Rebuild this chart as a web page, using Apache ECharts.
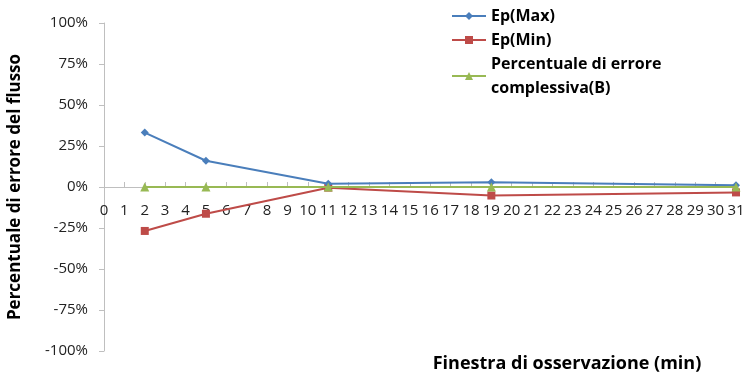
<!DOCTYPE html>
<html><head><meta charset="utf-8">
<script src="https://cdn.jsdelivr.net/npm/echarts@6/dist/echarts.min.js"></script>
<style>html,body{margin:0;padding:0;background:#fff}#c{width:752px;height:376px}</style>
</head><body><div id="c"></div>
<script>
const xValues = [2, 5, 11, 19, 31];
const epMax = [33.2, 16.0, 2.0, 2.9, 1.0];
const epMin = [-26.8, -16.3, -0.4, -5.2, -3.3];
const percB = [0, 0, 0, 0, 0];
const seriesNames = ['Ep(Max)', 'Ep(Min)', 'Percentuale di errore\ncomplessiva(B)'];
const xTitle = 'Finestra di osservazione (min)';
const yTitle = 'Percentuale di errore del flusso';

const pair = (arr) => xValues.map((x, i) => [x, arr[i]]);
const font = "'Open Sans', 'Liberation Sans', sans-serif";
const chart = echarts.init(document.getElementById('c'));
chart.setOption({
  animation: false,
  backgroundColor: '#fff',
  grid: { left: 104, right: 16, top: 23, bottom: 25, containLabel: false, outerBoundsMode: 'none' },
  legend: {
    orient: 'vertical', left: 446, top: -1, itemGap: 0,
    itemWidth: 34, itemHeight: 10,
    textStyle: { fontFamily: font, fontWeight: 'bold', fontSize: 16, color: '#000', lineHeight: 24 },
    data: seriesNames
  },
  xAxis: {
    type: 'value', min: 0, max: 31, interval: 1,
    position: 'bottom', offset: -164,
    axisLine: { onZero: false, lineStyle: { color: '#bfbfbf', width: 1 } },
    axisTick: { inside: true, length: 5, lineStyle: { color: '#bfbfbf' } },
    axisLabel: { margin: 16, fontFamily: font, fontSize: 15, color: '#222' },
    splitLine: { show: false },
    name: xTitle, nameLocation: 'middle', nameGap: 168,
    nameTextStyle: { fontFamily: font, fontWeight: 'bold', fontSize: 18, color: '#000', padding: [0, 0, 0, 294] }
  },
  yAxis: {
    type: 'value', min: -100, max: 100, interval: 25,
    axisLine: { show: true, lineStyle: { color: '#bfbfbf', width: 1 } },
    axisTick: { show: true, length: 5, lineStyle: { color: '#bfbfbf' } },
    axisLabel: { margin: 16, fontFamily: font, fontSize: 15, color: '#222', formatter: '{value}%' },
    splitLine: { show: false },
    name: yTitle, nameLocation: 'middle', nameGap: 80, nameRotate: 90,
    nameTextStyle: { fontFamily: font, fontWeight: 'bold', fontSize: 17, color: '#000' }
  },
  series: [
    { name: seriesNames[0], type: 'line', data: pair(epMax), symbol: 'diamond', symbolSize: 8,
      itemStyle: { color: '#4a7ebb' }, lineStyle: { width: 2, color: '#4a7ebb' }, z: 3 },
    { name: seriesNames[1], type: 'line', data: pair(epMin), symbol: 'rect', symbolSize: 8,
      itemStyle: { color: '#be4b48' }, lineStyle: { width: 2, color: '#be4b48' }, z: 2 },
    { name: seriesNames[2], type: 'line', data: pair(percB), symbol: 'triangle', symbolSize: 9,
      itemStyle: { color: '#98b954' }, lineStyle: { width: 2, color: '#98b954' }, z: 4 }
  ]
});
</script></body></html>
